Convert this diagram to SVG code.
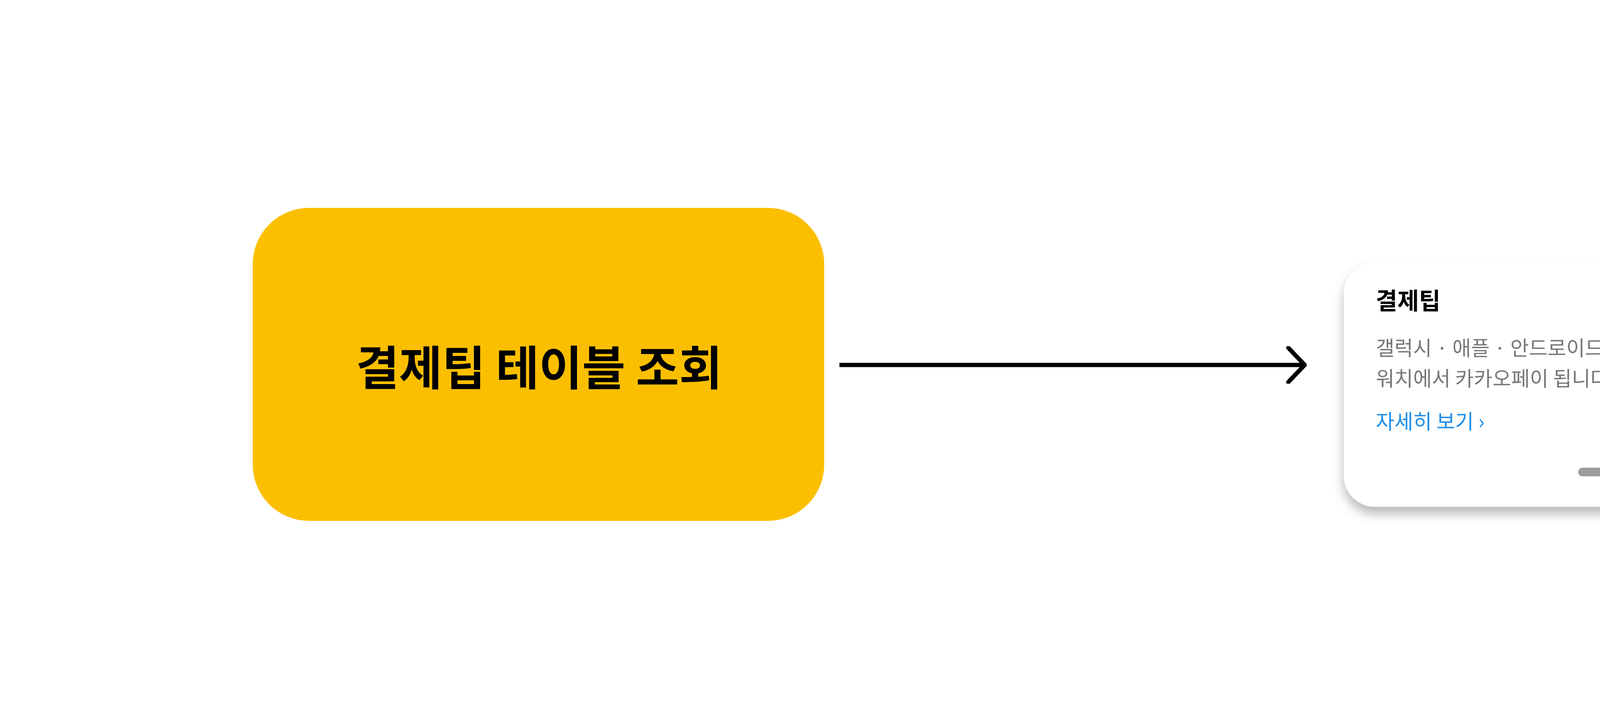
<svg xmlns="http://www.w3.org/2000/svg" width="5636" height="1858" viewBox="0 0 5636 1858">
<style>
.k{font-family:"Noto Sans CJK KR","Noto Sans",sans-serif}
</style>
<defs>
<marker id="ah" viewBox="0 0 54 96" refX="48" refY="48" markerWidth="54" markerHeight="96" markerUnits="userSpaceOnUse" orient="auto"><path d="M6 4 L48 48 L6 92" fill="none" stroke="#000" stroke-width="11" stroke-linecap="round" stroke-linejoin="round"/></marker>
<filter id="sh" x="-10%" y="-10%" width="120%" height="130%"><feDropShadow dx="0" dy="18" stdDeviation="14" flood-color="#000" flood-opacity="0.28"/></filter>
<linearGradient id="scr" x1="0" y1="1" x2="1" y2="0"><stop offset="0" stop-color="#4f4a44"/><stop offset="1" stop-color="#9a9086"/></linearGradient>
<linearGradient id="cs" x1="0" y1="0" x2="1" y2="1"><stop offset="0" stop-color="#f4f4f8"/><stop offset="1" stop-color="#8d8d9c"/></linearGradient>
</defs>
<rect width="5636" height="1858" fill="#fff"/>
<g id="node-query">
<rect x="647" y="532" width="1463" height="801" rx="144" fill="#fcbf00"/>
<text class="k" x="1380" y="934" font-size="120" font-weight="700" text-anchor="middle" dominant-baseline="central" fill="#000">결제팁 테이블 조회</text>
</g>
<g id="connectors">
<path d="M2149 934 H3340" stroke="#000" stroke-width="11" fill="none" marker-end="url(#ah)"/>
</g>
<g id="node-card">
<rect x="3440" y="672" width="1369" height="625" rx="80" fill="#fff" filter="url(#sh)"/>
<text class="k" x="3522" y="792" font-size="60" font-weight="700" fill="#000">결제팁</text>
<text class="k" x="3522" y="910" font-size="52" fill="#777">갤럭시 · 애플 · 안드로이드 OS</text>
<text class="k" x="3522" y="988" font-size="52" fill="#777">워치에서 카카오페이 됩니다</text>
<text class="k" x="3522" y="1098" font-size="52" fill="#1a8ce8">자세히 보기 ›</text>
<rect x="4040" y="1197" width="72" height="22" rx="11" fill="#9b9ba0"/>
<circle cx="4148" cy="1208" r="11" fill="#d8d8dc"/>
<circle cx="4194" cy="1208" r="11" fill="#d8d8dc"/>
<g id="watch">
<path d="M4600 828 Q4680 820 4700 880 L4705 980 Q4700 1050 4640 1052 Q4570 1050 4560 1000 L4555 870 Z" fill="#1f2228"/>
<rect x="4485" y="830" width="150" height="175" rx="38" fill="url(#cs)" transform="rotate(6 4560 917)"/>
<rect x="4500" y="846" width="120" height="143" rx="28" fill="url(#scr)" transform="rotate(6 4560 917)"/>
<rect x="4634" y="895" width="20" height="40" rx="10" fill="#c9c9d2"/>
</g>
</g>
</svg>
